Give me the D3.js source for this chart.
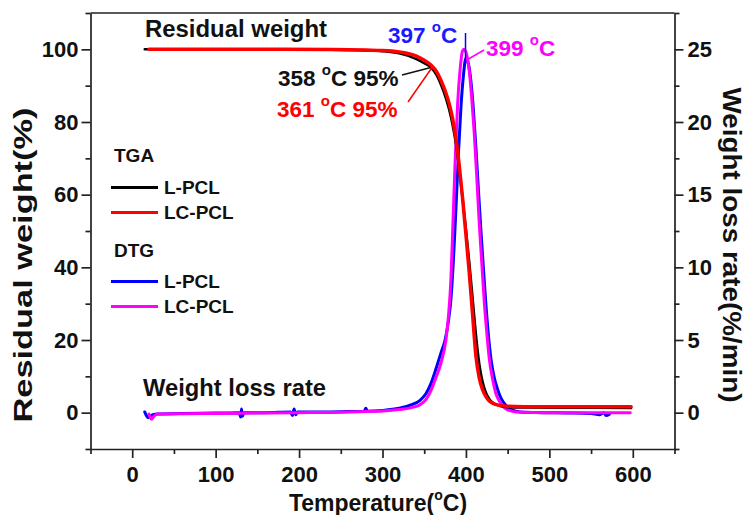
<!DOCTYPE html>
<html>
<head>
<meta charset="utf-8">
<title>TGA / DTG of L-PCL and LC-PCL</title>
<script src="https://d3js.org/d3.v7.min.js"></script>
<style>
    body { margin: 0; background: #fff; }
    svg text { font-family: "Liberation Sans", Arial, sans-serif; font-weight: bold; fill: #111; }
    .axis path, .axis line { stroke: #222; stroke-width: 1.7; }
    .axis text { font-size: 22px; }
    .curve { fill: none; stroke-linejoin: round; stroke-linecap: round; }
</style>
</head>
<body>
<svg width="752" height="515"></svg>
<script>
// ---- data ----
// TGA, residual weight (%) vs temperature (C), left axis
var tgaTemps = [60, 120, 180, 240, 280, 300, 320, 340, 350, 358, 365, 370, 376, 380, 384, 388, 392, 396,
                400, 404, 408, 412, 416, 420, 424, 428, 432, 440, 450, 470, 520, 598];
var tgaLStart = 15, tgaLCStart = 20;
var tgaL  = [100, 100, 100, 99.9, 99.7, 99.5, 98.9, 97.4, 96.2, 95, 92.8, 90.3, 86.5, 83.3, 79.2, 74, 67, 59,
             50.5, 41.5, 31.5, 21.5, 13.5, 8.5, 5.5, 3.8, 2.8, 1.9, 1.5, 1.4, 1.35, 1.3];
var tgaLC = [100, 100, 100, 99.95, 99.8, 99.7, 99.3, 98.2, 97, 95.7, 93.8, 91.5, 88, 85, 81, 75.5, 68, 59,
             49, 38.5, 27, 15.5, 9.5, 6.3, 4.4, 3.2, 2.6, 2.0, 1.75, 1.65, 1.6, 1.6];

// DTG, weight loss rate (%/min), right axis
var dtgLTemps = [15, 17, 19, 22, 30, 60, 100, 128, 130, 131, 132, 134, 160, 190, 192, 194, 196, 198, 230, 260,
                 278, 280, 282, 300, 320, 335, 345, 352, 358, 364, 370, 375, 379, 382, 385, 388, 391, 394, 397,
                 400, 403, 406, 409, 412, 415, 418, 421, 424, 427, 430, 434, 438, 442, 448, 455, 465, 490, 520,
                 550, 560, 565, 568, 572];
var dtgL = [0.05, -0.2, -0.35, -0.2, -0.1, -0.05, -0.03, 0, -0.3, 0.25, -0.25, 0, 0, 0.05, -0.2, 0.25, -0.15, 0.05, 0.05, 0.08,
            0.1, 0.3, 0.1, 0.15, 0.3, 0.55, 0.85, 1.3, 2.0, 3.0, 4.1, 5.0, 6.3, 7.8, 10.5, 14, 17.8, 21, 23.2,
            24.4, 24, 22.8, 20.8, 18.2, 15.3, 12.5, 9.9, 7.4, 5.3, 3.7, 2.4, 1.6, 1.0, 0.5, 0.2, 0.05, 0, -0.02,
            -0.05, -0.15, 0, -0.2, -0.1];
var dtgLCTemps = [20, 23, 26, 30, 60, 100, 150, 200, 250, 280, 300, 320, 335, 345, 352, 358, 364, 370, 376, 379,
                  382, 384, 387, 390, 393, 396, 398, 401, 404, 407, 410, 413, 416, 419, 422, 425, 428, 432, 436,
                  440, 445, 452, 460, 500, 550, 597];
var dtgLC = [-0.1, -0.45, -0.25, -0.1, -0.07, -0.05, -0.02, 0, 0.03, 0.08, 0.12, 0.22, 0.35, 0.55, 0.9, 1.5, 2.4, 3.4, 5.0, 6.6,
             9.2, 12.3, 17.2, 21.2, 23.6, 24.9, 25, 24.6, 23.5, 21.6, 19.2, 16.2, 13, 10.3, 7.6, 5.5, 3.7, 2.3, 1.3,
             0.8, 0.4, 0.15, 0.05, 0, 0, 0];

// ticks
var xTicks = [0, 100, 200, 300, 400, 500, 600];
var xMinor = [-50, 50, 150, 250, 350, 450, 550, 650];
var yLeftTicks = [0, 20, 40, 60, 80, 100];
var yLeftMinor = [-10, 10, 30, 50, 70, 90, 110];
var yRightTicks = [0, 5, 10, 15, 20, 25];
var yRightMinor = [-2.5, 2.5, 7.5, 12.5, 17.5, 22.5, 27.5];

// ---- layout ----
var svg = d3.select("svg");
var plot = {left: 90.5, right: 674.5, top: 13, bottom: 449};

var x = d3.scaleLinear().domain([-50, 650]).range([plot.left, plot.right]);
var yL = d3.scaleLinear().domain([-10, 110]).range([plot.bottom, plot.top]);
var yR = d3.scaleLinear().domain([-2.5, 27.5]).range([plot.bottom, plot.top]);

// frame top line
svg.append("line")
    .attr("x1", plot.left).attr("x2", plot.right).attr("y1", plot.top).attr("y2", plot.top)
    .attr("stroke", "#222").attr("stroke-width", 1.7);

// axes: major + minor
function drawAxis(axisFn, scale, transform, ticks, minor, pad) {
    var g = svg.append("g").attr("class", "axis").attr("transform", transform);
    g.call(axisFn(scale).tickValues(ticks).tickSize(9).tickSizeOuter(0).tickPadding(pad).tickFormat(d3.format("d")));
    svg.append("g").attr("class", "axis").attr("transform", transform)
        .call(axisFn(scale).tickValues(minor).tickSize(5).tickSizeOuter(0).tickFormat(""))
        .select(".domain").remove();
    return g;
}
drawAxis(d3.axisBottom, x, "translate(0," + plot.bottom + ")", xTicks, xMinor, 8);
drawAxis(d3.axisLeft, yL, "translate(" + plot.left + ",0)", yLeftTicks, yLeftMinor, 3);
drawAxis(d3.axisRight, yR, "translate(" + plot.right + ",0)", yRightTicks, yRightMinor, 4);

// axis titles
svg.append("text")
    .attr("transform", "translate(32,265) rotate(-90)")
    .attr("text-anchor", "middle")
    .attr("font-size", 25)
    .attr("textLength", 315).attr("lengthAdjust", "spacingAndGlyphs")
    .text("Residual weight(%)");

svg.append("text")
    .attr("transform", "translate(723,245) rotate(90)")
    .attr("text-anchor", "middle")
    .attr("font-size", 25)
    .attr("textLength", 315).attr("lengthAdjust", "spacingAndGlyphs")
    .text("Weight loss rate(%/min)");

var xt = svg.append("text")
    .attr("x", 378).attr("y", 511)
    .attr("text-anchor", "middle")
    .attr("font-size", 23);
xt.append("tspan").text("Temperature(");
xt.append("tspan").attr("font-size", 14).attr("dy", -11).text("o");
xt.append("tspan").attr("dy", 11).text("C)");

// ---- curves ----
function pts(temps, vals) {
    return temps.map(function(t, i) { return [t, vals[i]]; });
}
var lineL = d3.line().x(function(d) { return x(d[0]); }).y(function(d) { return yL(d[1]); }).curve(d3.curveMonotoneX);
var lineR = d3.line().x(function(d) { return x(d[0]); }).y(function(d) { return yR(d[1]); }).curve(d3.curveMonotoneX);

svg.append("path").attr("class", "curve")
    .attr("d", lineR(pts(dtgLTemps, dtgL)))
    .attr("stroke", "#0000ff").attr("stroke-width", 3);
svg.append("path").attr("class", "curve")
    .attr("d", lineR(pts(dtgLCTemps, dtgLC)))
    .attr("stroke", "#ff00ff").attr("stroke-width", 3);

svg.append("path").attr("class", "curve")
    .attr("d", lineL(pts([tgaLStart].concat(tgaTemps), [100].concat(tgaL))))
    .attr("stroke", "#000").attr("stroke-width", 2.5);
svg.append("path").attr("class", "curve")
    .attr("d", lineL(pts([tgaLCStart].concat(tgaTemps), [100].concat(tgaLC))))
    .attr("stroke", "#ff0000").attr("stroke-width", 3.5);

// ---- text labels and leader lines ----
svg.append("text").attr("x", 145).attr("y", 37).attr("font-size", 23)
    .attr("textLength", 182).attr("lengthAdjust", "spacingAndGlyphs")
    .text("Residual weight");
svg.append("text").attr("x", 143).attr("y", 396).attr("font-size", 23)
    .attr("textLength", 183).attr("lengthAdjust", "spacingAndGlyphs")
    .text("Weight loss rate");

function degLabel(px, py, num, tail, color) {
    var t = svg.append("text").attr("x", px).attr("y", py).attr("font-size", 22.5).style("fill", color);
    t.append("tspan").text(num + " ");
    t.append("tspan").attr("font-size", 15).attr("dy", -11).text("o");
    t.append("tspan").attr("dy", 11).text("C" + tail);
}
degLabel(278, 86, "358", " 95%", "#111");
degLabel(277, 117, "361", " 95%", "#ff0000");
degLabel(388, 43, "397", "", "#1a1aff");
degLabel(486, 56, "399", "", "#ff00ff");

function leader(x1, y1, x2, y2, color) {
    svg.append("line").attr("x1", x1).attr("y1", y1).attr("x2", x2).attr("y2", y2)
        .attr("stroke", color).attr("stroke-width", 1.5);
}
leader(402, 75, x(358), yL(95), "#111");
leader(408, 102, x(360), yL(95.2), "#ff0000");
leader(x(399.5), 33, x(399.5), yR(24.4), "#0000ff");
leader(484, 50, x(402), yR(24.3), "#ff00ff");

// ---- legend ----
var legendItems = [
    {head: "TGA", y: 162},
    {label: "L-PCL", color: "#000", y: 194},
    {label: "LC-PCL", color: "#ff0000", y: 219},
    {head: "DTG", y: 257},
    {label: "L-PCL", color: "#0000ff", y: 288},
    {label: "LC-PCL", color: "#ff00ff", y: 313}
];
var legend = svg.append("g").attr("class", "legend");
legendItems.forEach(function(d) {
    if (d.head) {
        legend.append("text").attr("x", 114).attr("y", d.y).attr("font-size", 19).text(d.head);
    } else {
        legend.append("line").attr("x1", 111).attr("x2", 158)
            .attr("y1", d.y - 6.5).attr("y2", d.y - 6.5)
            .attr("stroke", d.color).attr("stroke-width", 3);
        legend.append("text").attr("x", 164).attr("y", d.y).attr("font-size", 19).text(d.label);
    }
});
</script>
</body>
</html>
